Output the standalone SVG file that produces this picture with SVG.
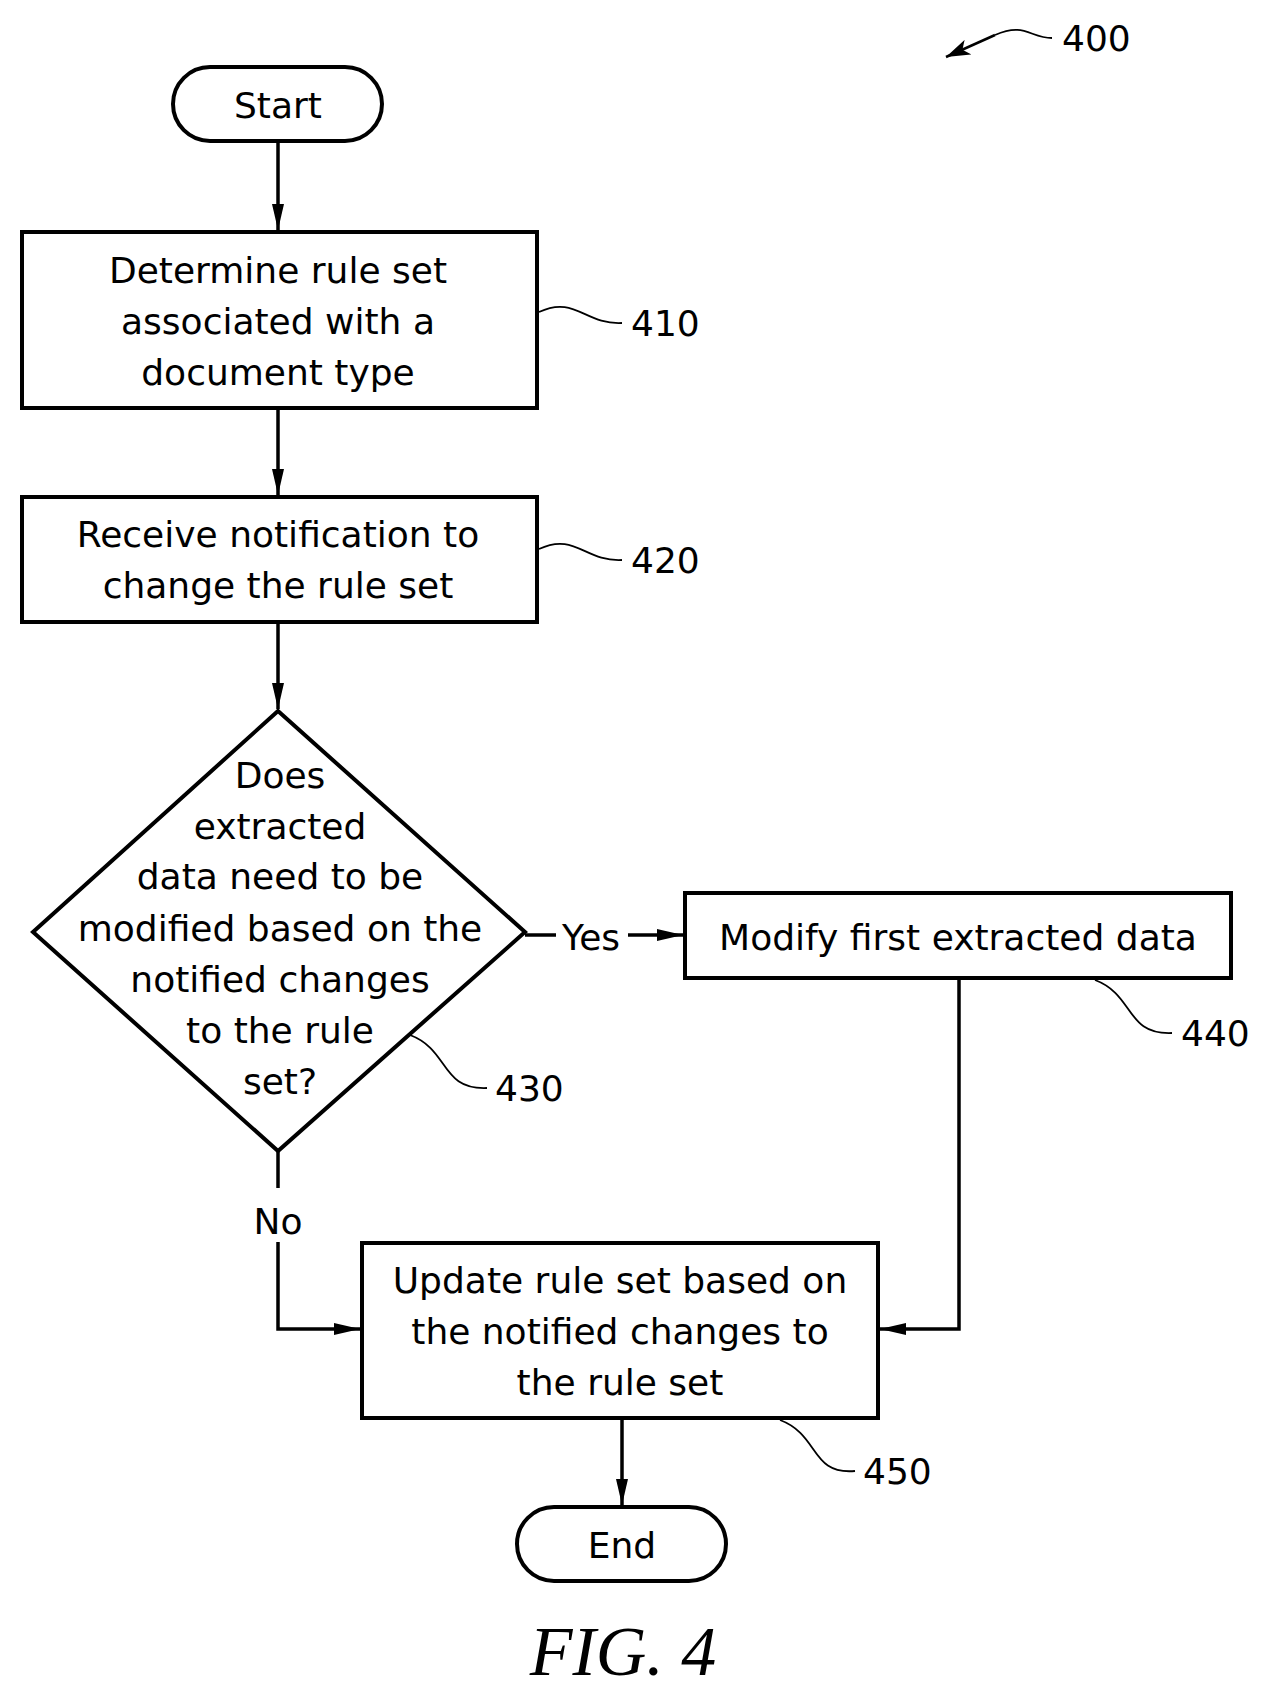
<svg xmlns="http://www.w3.org/2000/svg" width="1264" height="1692" viewBox="0 0 1264 1692">
<style>
.s{fill:#fff;stroke:#000;stroke-width:4}
.t{font-family:"DejaVu Sans",sans-serif;font-size:36px;text-anchor:middle;fill:#000}
.n{font-family:"DejaVu Sans",sans-serif;font-size:36px;fill:#000}
.c{fill:none;stroke:#000;stroke-width:3.5}
.l{fill:none;stroke:#000;stroke-width:1.8}
</style>
<defs><marker id="a" markerWidth="24" markerHeight="16" refX="24" refY="8" orient="auto" markerUnits="userSpaceOnUse"><path d="M0,0L24,8L0,16L6,8z"/></marker>
<marker id="b" markerWidth="26" markerHeight="12" refX="26" refY="6" orient="auto" markerUnits="userSpaceOnUse"><path d="M0,0L26,6L0,12z"/></marker></defs>
<rect width="1264" height="1692" fill="#fff"/>
<g id="start"><rect class="s" x="173" y="67" width="209" height="74" rx="37"/><text class="t" x="278" y="118">Start</text></g>
<g id="n410"><rect class="s" x="22" y="232" width="515" height="176"/><text class="t" x="278" y="283">Determine rule set</text><text class="t" x="278" y="334">associated with a</text><text class="t" x="278" y="385">document type</text></g>
<g id="n420"><rect class="s" x="22" y="497" width="515" height="125"/><text class="t" x="278" y="547">Receive notification to</text><text class="t" x="278" y="598">change the rule set</text></g>
<g id="n430"><polygon class="s" points="278,711 525,932 278,1151 33,932"/><text class="t" x="280" y="788">Does</text><text class="t" x="280" y="839">extracted</text><text class="t" x="280" y="889">data need to be</text><text class="t" x="280" y="941">modified based on the</text><text class="t" x="280" y="992">notified changes</text><text class="t" x="280" y="1043">to the rule</text><text class="t" x="280" y="1094">set?</text></g>
<g id="n440"><rect class="s" x="685" y="893" width="546" height="85"/><text class="t" x="958" y="950">Modify first extracted data</text></g>
<g id="n450"><rect class="s" x="362" y="1243" width="516" height="175"/><text class="t" x="620" y="1293">Update rule set based on</text><text class="t" x="620" y="1344">the notified changes to</text><text class="t" x="620" y="1395">the rule set</text></g>
<g id="end"><rect class="s" x="517" y="1507" width="209" height="74" rx="37"/><text class="t" x="622" y="1558">End</text></g>
<g id="connectors">
<path class="c" d="M278,141V230" marker-end="url(#b)"/>
<path class="c" d="M278,408V495" marker-end="url(#b)"/>
<path class="c" d="M278,622V709" marker-end="url(#b)"/>
<path class="c" d="M525,935H556"/><path class="c" d="M628,935H683" marker-end="url(#b)"/>
<path class="c" d="M278,1151V1188"/><path class="c" d="M278,1242V1329H360" marker-end="url(#b)"/>
<path class="c" d="M959,978V1329H880" marker-end="url(#b)"/>
<path class="c" d="M622,1418V1505" marker-end="url(#b)"/>
<text class="t" x="591" y="950">Yes</text>
<text class="t" x="278" y="1234">No</text>
</g>
<g id="labels">
<path class="l" d="M539,312C575,295 585,325 622,323"/><text class="n" x="631" y="336">410</text>
<path class="l" d="M539,549C575,532 585,562 622,560"/><text class="n" x="631" y="573">420</text>
<path class="l" d="M410,1035C450,1050 440,1090 487,1088"/><text class="n" x="495" y="1101">430</text>
<path class="l" d="M1095,980C1135,995 1125,1035 1172,1033"/><text class="n" x="1181" y="1046">440</text>
<path class="l" d="M780,1420C820,1435 810,1475 855,1471"/><text class="n" x="863" y="1484">450</text>
<path class="l" d="M1052,38C1030,38 1025,22 995,35" /><path class="l" d="M995,35L946,57" marker-end="url(#a)" style="stroke-width:2.5"/><text class="n" x="1062" y="51">400</text>
<text x="623" y="1675" style="font-family:'Liberation Serif',serif;font-style:italic;font-size:70px;text-anchor:middle">FIG. 4</text>
</g>
</svg>
